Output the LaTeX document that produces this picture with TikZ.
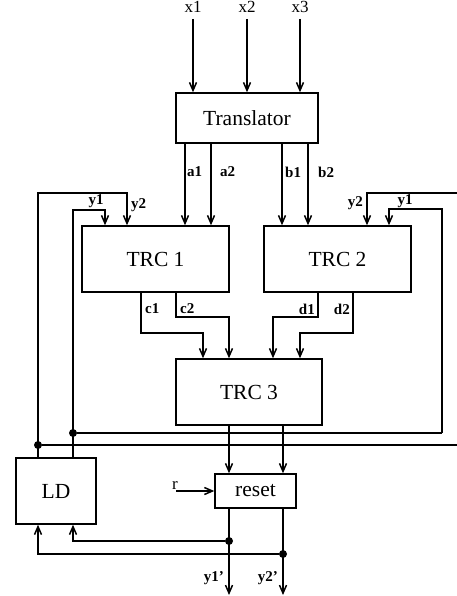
\documentclass[tikz,border=0pt]{standalone}
\usepackage{fontspec}
\setmainfont{Liberation Serif}
\usetikzlibrary{arrows.meta,calc}
\begin{document}
\begin{tikzpicture}[x=1pt,y=-1pt,
  box/.style={draw,line width=1.5pt,inner sep=0pt,font=\fontsize{21.5}{21.5}\selectfont},
  wire/.style={line width=1.5pt},
  arr/.style={wire,-{Straight Barb[length=8pt,width=7pt,line width=1.5pt]}},
  lbl/.style={inner sep=0pt,font=\fontsize{15}{15}\selectfont\bfseries},
  inl/.style={inner sep=0pt,font=\fontsize{17}{17}\selectfont},
  dot/.style={circle,fill,inner sep=0pt,minimum size=8pt}]
\useasboundingbox (0,0) rectangle (457,596);
% boxes
\node[box,minimum width=142,minimum height=50] (tr) at (247,118) {Translator};
\node[box,minimum width=147,minimum height=66] (t1) at (155.5,259) {TRC 1};
\node[box,minimum width=147,minimum height=66] (t2) at (337.5,259) {TRC 2};
\node[box,minimum width=146,minimum height=66] (t3) at (249,392) {TRC 3};
\node[box,minimum width=81,minimum height=34] (rs) at (255.5,491) {reset};
\node[box,minimum width=80,minimum height=66] (ld) at (56,491) {LD};
% inputs
\node[inl] (x1) at (193,7) {x1};
\node[inl] (x2) at (247,7) {x2};
\node[inl] (x3) at (300,7) {x3};
\coordinate (x1s) at (193,19);
\coordinate (x2s) at (247,19);
\coordinate (x3s) at (300,19);
\draw[arr] (x1s) -- (x1s |- tr.north);
\draw[arr] (x2s) -- (x2s |- tr.north);
\draw[arr] (x3s) -- (x3s |- tr.north);
% translator outputs
\coordinate (a1) at (185,143);
\coordinate (a2) at (211,143);
\coordinate (b1) at (282,143);
\coordinate (b2) at (308,143);
\draw[arr] (a1) -- (a1 |- t1.north);
\draw[arr] (a2) -- (a2 |- t1.north);
\draw[arr] (b1) -- (b1 |- t2.north);
\draw[arr] (b2) -- (b2 |- t2.north);
\node[lbl,anchor=west] (la1) at (187,172) {a1};
\node[lbl,anchor=west] (la2) at (220,172) {a2};
\node[lbl,anchor=west] (lb1) at (285,172) {b1};
\node[lbl,anchor=west] (lb2) at (318,172) {b2};
% left feedback loops
\coordinate (L2) at (38,193);
\coordinate (L2b) at (127,193);
\coordinate (L1) at (73,210);
\coordinate (L1b) at (105,210);
\draw[arr] (ld.north -| L2) -- (L2) -- (L2b) -- (L2b |- t1.north);
\draw[arr] (ld.north -| L1) -- (L1) -- (L1b) -- (L1b |- t1.north);
\node[lbl] (ly1) at (96,201) {y1};
\node[lbl,anchor=west] (ly2) at (131,205) {y2};
% right feedback loops
\coordinate (R2) at (457,193);
\coordinate (R2b) at (367,193);
\coordinate (R1) at (442,209);
\coordinate (R1b) at (389,209);
\coordinate (R1c) at (442,433);
\draw[arr] (R2) -- (R2b) -- (R2b |- t2.north);
\draw[arr] (R1c) -- (R1) -- (R1b) -- (R1b |- t2.north);
\node[lbl,anchor=east] (ry2) at (363,203) {y2};
\node[lbl] (ry1) at (405,201) {y1};
% horizontal buses
\node[dot] (d1) at (73,433) {};
\node[dot] (d2) at (38,445) {};
\coordinate (R2c) at (457,445);
\draw[wire] (R1c) -- (d1);
\draw[wire] (R2c) -- (d2);
% TRC1 / TRC2 outputs
\coordinate (c1) at (141,292);
\coordinate (c2) at (176,292);
\coordinate (e1) at (318,292);
\coordinate (e2) at (353,292);
\draw[arr] (c1) -- (141,333) -- (203,333) -- (203,333 |- t3.north);
\draw[arr] (c2) -- (176,317) -- (229,317) -- (229,317 |- t3.north);
\draw[arr] (e1) -- (318,317) -- (273,317) -- (273,317 |- t3.north);
\draw[arr] (e2) -- (353,333) -- (300,333) -- (300,333 |- t3.north);
\node[lbl,anchor=west] (lc1) at (145,309) {c1};
\node[lbl,anchor=west] (lc2) at (180,309) {c2};
\node[lbl,anchor=east] (ld1) at (315,309) {d1};
\node[lbl,anchor=east] (ld2) at (350,309) {d2};
% TRC3 to reset
\coordinate (o1) at (229,425);
\coordinate (o2) at (283,425);
\draw[arr] (o1) -- (o1 |- rs.north);
\draw[arr] (o2) -- (o2 |- rs.north);
% r input
\node[inl,anchor=south west] (r) at (172,490) {r};
\coordinate (rs0) at (176,491);
\draw[arr] (rs0) -- (rs.west);
% reset outputs
\node[dot] (d3) at (229,541) {};
\node[dot] (d4) at (283,554) {};
\coordinate (q1) at (229,595);
\coordinate (q2) at (283,595);
\draw[arr] (rs.south -| d3) -- (q1);
\draw[arr] (rs.south -| d4) -- (q2);
\draw[arr] (d3) -- (73,541) -- (73,541 |- ld.south);
\draw[arr] (d4) -- (38,554) -- (38,554 |- ld.south);
\node[lbl,anchor=east] (ly1p) at (224,578) {y1'};
\node[lbl,anchor=east] (ly2p) at (278,578) {y2'};
\end{tikzpicture}
\end{document}
